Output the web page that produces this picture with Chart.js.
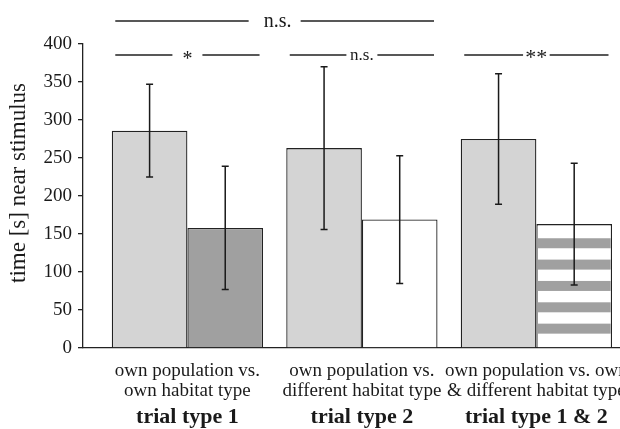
<!DOCTYPE html>
<html><head><meta charset="utf-8">
<script src="https://cdn.jsdelivr.net/npm/chart.js@4.4.1/dist/chart.umd.min.js"></script>
<style>
html,body{margin:0;padding:0;overflow:hidden;background:#fff;width:620px;height:429px}
#wrap{position:absolute;left:0;top:0;width:660px;height:429px}
</style>
</head><body><div id="wrap"><canvas id="c"></canvas></div>
<script>
// ---- data ----
const categories = ['trial type 1', 'trial type 2', 'trial type 1 & 2'];
const comparisonLabels = [
  ['own population vs.', 'own habitat type'],
  ['own population vs.', 'different habitat type'],
  ['own population vs. own', '& different habitat type']
];
const ownPopulation = [286, 263, 275];
const ownPopulationErr = [61, 107, 86];
const habitatStimulus = [158, 169, 163];
const habitatStimulusErr = [81, 84, 80];
const groupSignificance = ['*', 'n.s.', '**'];
const acrossSignificance = 'n.s.';
const yTitle = 'time [s] near stimulus';
const yMin = 0, yMax = 400, yStep = 50;

// ---- style ----
const FONT = "'Liberation Serif', 'Times New Roman', serif";
const INK = '#1a1a1a';
const LINE = '#222222';
const BW = 1.3;

function pairBounds(chart, i) {
  const a = chart.getDatasetMeta(0).data[i];
  const b = chart.getDatasetMeta(1).data[i];
  return { left: a.x - a.width / 2, right: b.x + b.width / 2 };
}

const stripes = {
  id: 'stripes',
  afterDatasetDraw(chart, args) {
    if (args.index !== 1) return;
    const el = args.meta.data[2];
    const { x, y, base, width } = el.getProps(['x', 'y', 'base', 'width'], true);
    const ctx = chart.ctx;
    ctx.save();
    ctx.fillStyle = '#a0a0a0';
    for (let k = 0; k < 50; k++) {
      const bottom = base - 13.7 - k * 21.35;
      const top = bottom - 10;
      if (top < y + 4) break;
      ctx.fillRect(x - width / 2 + BW, top, width - 2 * BW, 10);
    }
    ctx.restore();
  }
};

const errorBars = {
  id: 'errorBars',
  afterDatasetsDraw(chart) {
    const ys = chart.scales.y, ctx = chart.ctx;
    const errs = [ownPopulationErr, habitatStimulusErr];
    ctx.save();
    ctx.strokeStyle = INK;
    ctx.lineWidth = 1.5;
    chart.data.datasets.forEach((ds, d) => {
      chart.getDatasetMeta(d).data.forEach((el, i) => {
        const v = ds.data[i].y, e = errs[d][i];
        const t = ys.getPixelForValue(v + e), b = ys.getPixelForValue(v - e);
        ctx.beginPath();
        ctx.moveTo(el.x, t); ctx.lineTo(el.x, b);
        ctx.moveTo(el.x - 3.5, t); ctx.lineTo(el.x + 3.5, t);
        ctx.moveTo(el.x - 3.5, b); ctx.lineTo(el.x + 3.5, b);
        ctx.stroke();
      });
    });
    ctx.restore();
  }
};

const sigStyle = [
  { size: 20, gap: 15, base: 10 },
  { size: 17, gap: 15.5, base: 4.5 },
  { size: 22, gap: 13.3, base: 9 }
];

function gappedLine(ctx, l, r, c, gap, y) {
  ctx.beginPath();
  ctx.moveTo(l, y); ctx.lineTo(c - gap, y);
  ctx.moveTo(c + gap, y); ctx.lineTo(r, y);
  ctx.stroke();
}

const annotations = {
  id: 'annotations',
  afterDraw(chart) {
    const ctx = chart.ctx, area = chart.chartArea;
    ctx.save();
    ctx.strokeStyle = LINE;
    ctx.lineWidth = 1.3;
    ctx.fillStyle = INK;
    ctx.textAlign = 'center';
    ctx.textBaseline = 'alphabetic';
    const rowY = area.top + 11;
    groupSignificance.forEach((s, i) => {
      const p = pairBounds(chart, i);
      const st = sigStyle[i];
      const c = (p.left + p.right) / 2;
      gappedLine(ctx, p.left + 3.5, p.right - 3.5, c, st.gap, rowY);
      ctx.font = st.size + 'px ' + FONT;
      ctx.fillText(s, c, rowY + st.base);
    });
    const p0 = pairBounds(chart, 0), p1 = pairBounds(chart, 1);
    const topY = area.top - 23;
    const l = p0.left + 3.5, r = p1.right - 3.5, c = (l + r) / 2;
    gappedLine(ctx, l, r, c, 26, topY);
    ctx.font = '20px ' + FONT;
    ctx.fillText(acrossSignificance, c + 3, topY + 5.5);
    ctx.translate(19, 183);
    ctx.rotate(-Math.PI / 2);
    ctx.font = '23px ' + FONT;
    ctx.textBaseline = 'middle';
    ctx.fillText(yTitle, 0, 0);
    ctx.restore();
  }
};

Chart.defaults.font.family = FONT;
Chart.defaults.color = INK;

const xRange = { min: 0.4016, max: 3.5366 };

new Chart(document.getElementById('c'), {
  type: 'bar',
  data: {
    datasets: [
      {
        label: 'own population',
        data: ownPopulation.map((v, i) => ({ x: i + 1, y: v })),
        backgroundColor: '#d4d4d4',
        borderColor: LINE, borderWidth: BW,
        categoryPercentage: 0.867, barPercentage: 1
      },
      {
        label: 'habitat type',
        data: habitatStimulus.map((v, i) => ({ x: i + 1, y: v })),
        backgroundColor: ['#a0a0a0', '#ffffff', '#ffffff'],
        borderColor: LINE, borderWidth: BW,
        categoryPercentage: 0.867, barPercentage: 1
      }
    ]
  },
  options: {
    responsive: true,
    maintainAspectRatio: false,
    animation: false,
    layout: { padding: { top: 44, right: 30, left: 0, bottom: 0 } },
    plugins: { legend: { display: false }, tooltip: { enabled: false } },
    scales: {
      x: {
        type: 'linear', position: 'bottom', weight: 0, offset: false,
        min: xRange.min, max: xRange.max,
        afterBuildTicks: s => { s.ticks = categories.map((c, i) => ({ value: i + 1 })); },
        afterFit: s => { s.height = 53; },
        grid: { display: false, offset: false, drawTicks: false, tickLength: 0 },
        border: { display: true, color: LINE, width: BW },
        ticks: {
          autoSkip: false, maxRotation: 0, minRotation: 0, padding: 13, color: INK,
          font: { family: FONT, size: 19, lineHeight: '20px' },
          callback: (v, i) => comparisonLabels[i]
        }
      },
      x2: {
        type: 'linear', position: 'bottom', weight: 1, offset: false,
        min: xRange.min, max: xRange.max,
        afterBuildTicks: s => { s.ticks = categories.map((c, i) => ({ value: i + 1 })); },
        afterFit: s => { s.height = 28; },
        grid: { display: false, offset: false, drawTicks: false, tickLength: 0 },
        border: { display: false },
        ticks: {
          autoSkip: false, maxRotation: 0, minRotation: 0, padding: 5, color: INK,
          font: { family: FONT, size: 22, weight: 'bold', lineHeight: '22px' },
          callback: (v, i) => categories[i]
        }
      },
      y: {
        min: yMin, max: yMax,
        afterFit: s => { s.width = 83; },
        grid: { drawOnChartArea: false, drawTicks: true, tickLength: 5, color: LINE, lineWidth: BW },
        border: { display: true, color: LINE, width: BW },
        ticks: { stepSize: yStep, padding: 6, color: INK, font: { family: FONT, size: 19 } }
      }
    }
  },
  plugins: [stripes, errorBars, annotations]
});
</script>
</body></html>
